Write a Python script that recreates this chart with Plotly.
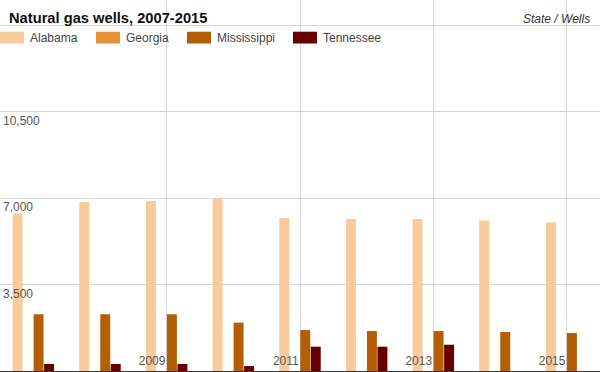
import plotly.graph_objects as go

# ---- data ----
years = [2007, 2008, 2009, 2010, 2011, 2012, 2013, 2014, 2015]
states = ["Alabama", "Georgia", "Mississippi", "Tennessee"]
alabama = [6400, 6850, 6890, 7010, 6200, 6160, 6160, 6100, 6030]
georgia = [0, 0, 0, 0, 0, 0, 0, 0, 0]
mississippi = [2300, 2300, 2300, 1960, 1660, 1620, 1620, 1580, 1540]
tennessee = [285, 285, 285, 200, 985, 985, 1065, None, None]
colors = ["#f9cb9c", "#e69138", "#b45f06", "#660000"]

x_tick_vals = [2007, 2009, 2011, 2013, 2015]
x_tick_text = ["", "2009", "2011", "2013", "2015"]
y_tick_vals = [3500, 7000, 10500, 14000]
y_tick_text = ["3,500", "7,000", "10,500", ""]

title_text = "Natural gas wells, 2007-2015"
subtitle_text = "State / Wells"

# ---- layout constants ----
W, H = 600, 372
M_T, M_B = 0, 1
PLOT_H = H - M_T - M_B
FONT = "Liberation Sans, Arial, sans-serif"

series = [alabama, georgia, mississippi, tennessee]

fig = go.Figure()
for name, vals, col in zip(states, series, colors):
    fig.add_trace(go.Bar(
        x=years, y=vals, name=name,
        marker=dict(color=col, line=dict(width=0)),
        showlegend=False,
    ))

# manual legend (swatch 24x12 + label)
legend_px = [0, 96, 187, 293]
sw_top, sw_bot = 31.7, 43.5
for px, name, col in zip(legend_px, states, colors):
    fig.add_shape(type="rect", xref="paper", yref="paper",
                  x0=px / W, x1=(px + 24) / W,
                  y0=1 - sw_bot / PLOT_H, y1=1 - sw_top / PLOT_H,
                  fillcolor=col, line=dict(width=0), layer="above")
    fig.add_annotation(xref="paper", yref="paper",
                       x=(px + 28) / W, y=1 - 37.6 / PLOT_H,
                       xanchor="left", yanchor="middle", showarrow=False,
                       text=name, font=dict(family=FONT, size=12, color="#444"))

fig.add_annotation(xref="paper", yref="paper", x=592 / W, y=1 - 18.5 / PLOT_H,
                   xanchor="right", yanchor="middle", showarrow=False,
                   text="<i>" + subtitle_text + "</i>",
                   font=dict(family=FONT, size=12, color="#333"))

fig.update_layout(
    width=W, height=H,
    margin=dict(l=0, r=0, t=M_T, b=M_B, pad=0),
    paper_bgcolor="white", plot_bgcolor="white",
    barmode="group", bargap=0.37, bargroupgap=0.05,
    title=dict(text=title_text, x=9 / W, xanchor="left",
               y=1 - 18 / H, yanchor="middle", xref="container", yref="container",
               font=dict(family=FONT, size=14.7, color="#111", weight="bold")),
    xaxis=dict(range=[2006.5, 2015.5], tickmode="array",
               tickvals=x_tick_vals, ticktext=x_tick_text,
               ticklabelposition="inside left", ticks="inside", ticklen=4,
               tickcolor="rgba(0,0,0,0)",
               showgrid=True, gridcolor="#d6d6d6", gridwidth=1,
               showline=True, linecolor="#333", linewidth=1.5,
               zeroline=False,
               tickfont=dict(family=FONT, size=12, color="#555")),
    yaxis=dict(range=[0, 15040], tickmode="array",
               tickvals=y_tick_vals, ticktext=y_tick_text,
               ticklabelposition="inside bottom", ticks="inside", ticklen=2,
               tickcolor="rgba(0,0,0,0)",
               showgrid=True, gridcolor="#d6d6d6", gridwidth=1,
               zeroline=False, showline=False,
               tickfont=dict(family=FONT, size=12, color="#555")),
    font=dict(family=FONT),
)

fig.write_html(
    "out.html",
    config={"displayModeBar": False},
    post_script="document.body.style.margin='0';document.body.style.overflow='hidden';",
)
